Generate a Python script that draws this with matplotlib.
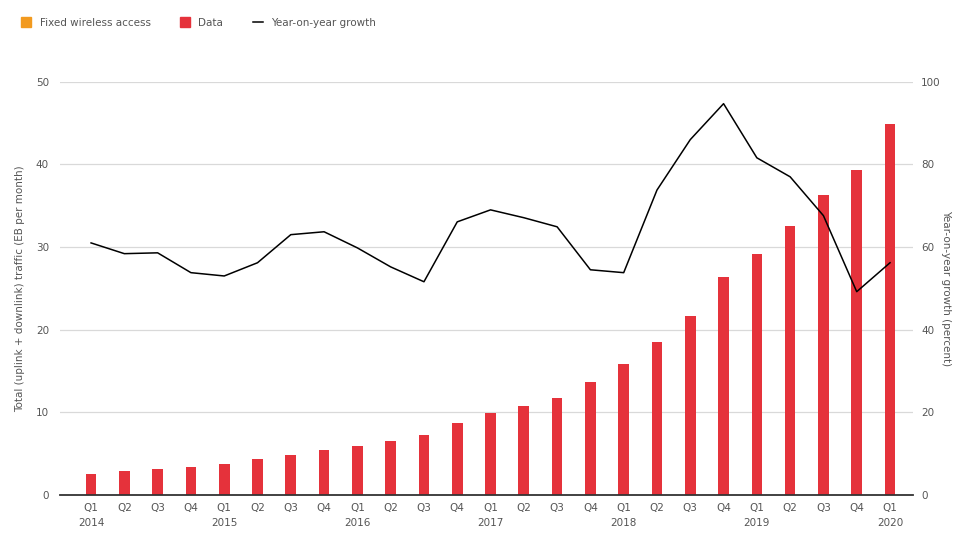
import matplotlib
matplotlib.use('Agg')
import matplotlib.pyplot as plt
from matplotlib.patches import Patch
from matplotlib.lines import Line2D
import numpy as np

# ----- DATA ---------------------------------------------------------------------
quarters = ['Q1', 'Q2', 'Q3', 'Q4'] * 6 + ['Q1']
years = ['2014', '2015', '2016', '2017', '2018', '2019', '2020']

# Total mobile data traffic (EB per month)
data_traffic = [2.5, 2.9, 3.1, 3.4, 3.75, 4.4, 4.8, 5.4, 5.9, 6.5, 7.3, 8.7,
                9.9, 10.8, 11.7, 13.7, 15.9, 18.5, 21.7, 26.4, 29.1, 32.6,
                36.3, 39.3, 44.9]

# Year-on-year growth (percent)
yoy_growth = [61.0, 58.4, 58.6, 53.8, 53.0, 56.2, 63.0, 63.7, 59.8, 55.2,
              51.6, 66.1, 69.0, 67.1, 64.9, 54.5, 53.8, 73.8, 86.0, 94.7,
              81.6, 77.0, 67.6, 49.2, 56.2]

# ----- STYLE --------------------------------------------------------------------
red = '#e5323b'
orange = '#f29a1f'
grey_text = '#555555'
grid_col = '#d9d9d9'

x = np.arange(len(data_traffic))
labels = []
yi = 0
for q in quarters:
    if q == 'Q1':
        labels.append(f'{q}\n{years[yi]}')
        yi += 1
    else:
        labels.append(q)

fig = plt.figure(figsize=(9.54, 5.38), dpi=100)
ax = fig.add_axes([0.063, 0.080, 0.894, 0.768])
ax2 = ax.twinx()

ax.bar(x, data_traffic, width=0.32, color=red, zorder=2)
ax2.plot(x, yoy_growth, color='black', lw=1.1, zorder=3)

ax.set_xlim(-0.93, 24.69)
ax.set_ylim(0, 50)
ax2.set_ylim(0, 100)
ax.set_yticks(np.arange(0, 51, 10))
ax2.set_yticks(np.arange(0, 101, 20))
ax.set_xticks(x)
ax.set_xticklabels(labels, fontsize=7.5, color=grey_text, linespacing=1.6)

ax.grid(axis='y', color=grid_col, lw=0.9, zorder=0)
ax.set_axisbelow(True)
for a in (ax, ax2):
    for s in ['top', 'left', 'right']:
        a.spines[s].set_visible(False)
    a.tick_params(length=0, labelsize=7.5, labelcolor=grey_text)
ax.spines['bottom'].set_color('#333333')
ax.spines['bottom'].set_linewidth(1.3)
ax2.spines['bottom'].set_visible(False)
ax.tick_params(axis='x', pad=6)
ax.tick_params(axis='y', pad=8)
ax2.tick_params(axis='y', pad=6)

ax.set_ylabel('Total (uplink + downlink) traffic (EB per month)', fontsize=7.5,
              color=grey_text, labelpad=8)
ax2.set_ylabel('Year-on-year growth (percent)', fontsize=7.5, color=grey_text,
               rotation=270, labelpad=7)

handles = [Patch(color=orange), Patch(color=red), Line2D([], [], color='black', lw=1.1)]
names = ['Fixed wireless access', 'Data', 'Year-on-year growth']
fig.legend(handles, names, loc='upper left', bbox_to_anchor=(0.012, 0.985), ncol=3,
           frameon=False, fontsize=7.5, labelcolor=grey_text, handlelength=1.0,
           handleheight=1.0, columnspacing=2.8, handletextpad=0.8)

fig.savefig('out.png', dpi=100)
